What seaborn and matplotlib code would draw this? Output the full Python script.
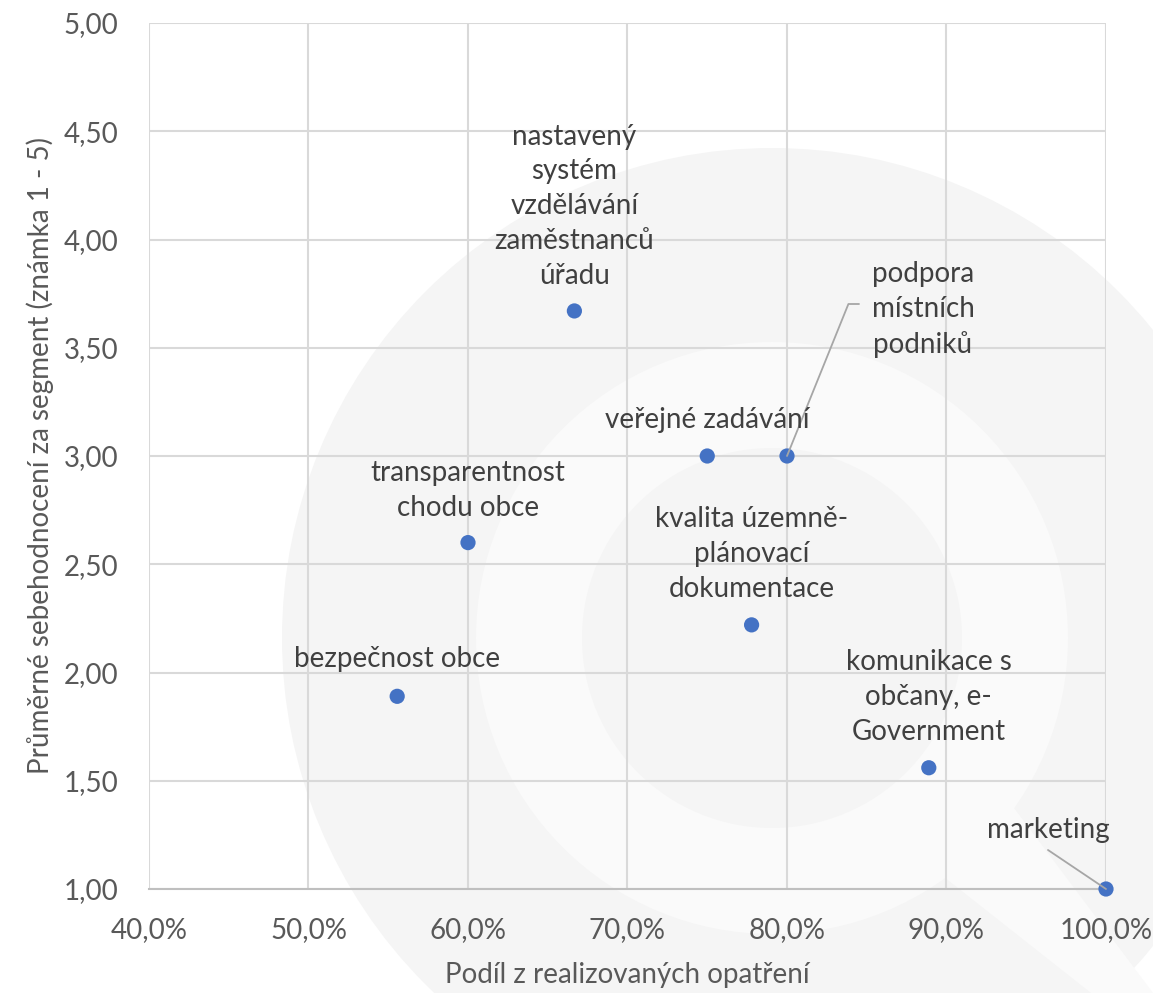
import pandas as pd
import matplotlib.pyplot as plt
import seaborn as sns
from matplotlib.patches import Circle, Polygon
from matplotlib.ticker import FuncFormatter

# Data
labels = [
    "nastavený\nsystém\nvzdělávání\nzaměstnanců\núřadu",
    "veřejné zadávání",
    "podpora\nmístních\npodniků",
    "transparentnost\nchodu obce",
    "kvalita územně-\nplánovací\ndokumentace",
    "bezpečnost obce",
    "komunikace s\nobčany, e-\nGovernment",
    "marketing",
]
podil = [0.6667, 0.75, 0.80, 0.60, 0.7778, 0.5556, 0.8889, 1.00]
hodnoceni = [3.67, 3.00, 3.00, 2.60, 2.22, 1.89, 1.56, 1.00]

df = pd.DataFrame({"label": labels, "podil": podil, "hodnoceni": hodnoceni})

sns.set_style("white")
plt.rcParams["font.family"] = ["Lato", "DejaVu Sans"]

fig = plt.figure(figsize=(11.53, 9.93), dpi=100, facecolor="white")

# faint watermark logo behind the chart (pixel coordinates of the figure)
bg = fig.add_axes([0, 0, 1, 1], zorder=0)
bg.set_xlim(0, 1153)
bg.set_ylim(993, 0)
bg.axis("off")
bg.add_patch(Circle((772, 638), 490, color="#f5f5f5", lw=0))
bg.add_patch(Circle((772, 638), 296, color="#fafafa", lw=0))
bg.add_patch(Polygon([(929, 695), (1223, 1086), (1209, 1086), (797, 761)],
                     closed=True, color="#fafafa", lw=0))
bg.add_patch(Circle((772, 638), 190, color="#f5f5f5", lw=0))

ax = fig.add_axes([149 / 1153, 1 - 889 / 993, (1106 - 149) / 1153, (889 - 23) / 993], zorder=1)
ax.set_facecolor("none")

sns.scatterplot(data=df, x="podil", y="hodnoceni", ax=ax, color="#4472C4",
                s=120, edgecolor="none", zorder=3, clip_on=False)

ax.set_xlim(0.4, 1.0)
ax.set_ylim(1.0, 5.0)
ax.set_xticks([0.4, 0.5, 0.6, 0.7, 0.8, 0.9, 1.0])
ax.set_yticks([1.0, 1.5, 2.0, 2.5, 3.0, 3.5, 4.0, 4.5, 5.0])
ax.xaxis.set_major_formatter(FuncFormatter(lambda v, p: f"{v * 100:.1f}%".replace(".", ",")))
ax.yaxis.set_major_formatter(FuncFormatter(lambda v, p: f"{v:.2f}".replace(".", ",")))
ax.tick_params(axis="both", length=0, labelsize=20, labelcolor="#595959")
ax.tick_params(axis="x", pad=20)
ax.tick_params(axis="y", pad=22)

ax.grid(True, color="#d9d9d9", linewidth=1.5)
for side in ["top", "right", "left"]:
    ax.spines[side].set_visible(False)
ax.spines["bottom"].set_color("#bfbfbf")
ax.spines["bottom"].set_linewidth(1.5)
ax.spines["bottom"].set_zorder(2)

ax.set_xlabel("Podíl z realizovaných opatření", fontsize=20, color="#595959", labelpad=14)
ax.set_ylabel("Průměrné sebehodnocení za segment (známka 1 - 5)", fontsize=20,
              color="#595959", labelpad=7)

# data labels (offsets in pixels from each point)
offsets = [(0, 27), (0, 28), (136, 103), (0, 27), (0, 28), (0, 29), (0, 28), (-58, 51)]
for (lab, x, y), (dx, dy) in zip(zip(labels, podil, hodnoceni), offsets):
    ax.annotate(lab, xy=(x, y), xytext=(dx, dy), textcoords="offset pixels",
                ha="center", va="baseline", fontsize=20, color="#404040",
                linespacing=1.42, zorder=4, annotation_clip=False)

# leader lines
ax.annotate("", xy=(podil[2], hodnoceni[2]), xytext=(72, 152), textcoords="offset pixels",
            arrowprops=dict(arrowstyle="-", color="#a6a6a6", lw=1.3, shrinkA=0, shrinkB=0,
                            connectionstyle="angle,angleA=0,angleB=68,rad=0"),
            annotation_clip=False)
ax.annotate("", xy=(podil[7], hodnoceni[7]), xytext=(-58, 39), textcoords="offset pixels",
            arrowprops=dict(arrowstyle="-", color="#a6a6a6", lw=1.3, shrinkA=0, shrinkB=0),
            annotation_clip=False)

plt.savefig("out.png", dpi=100, facecolor="white")
